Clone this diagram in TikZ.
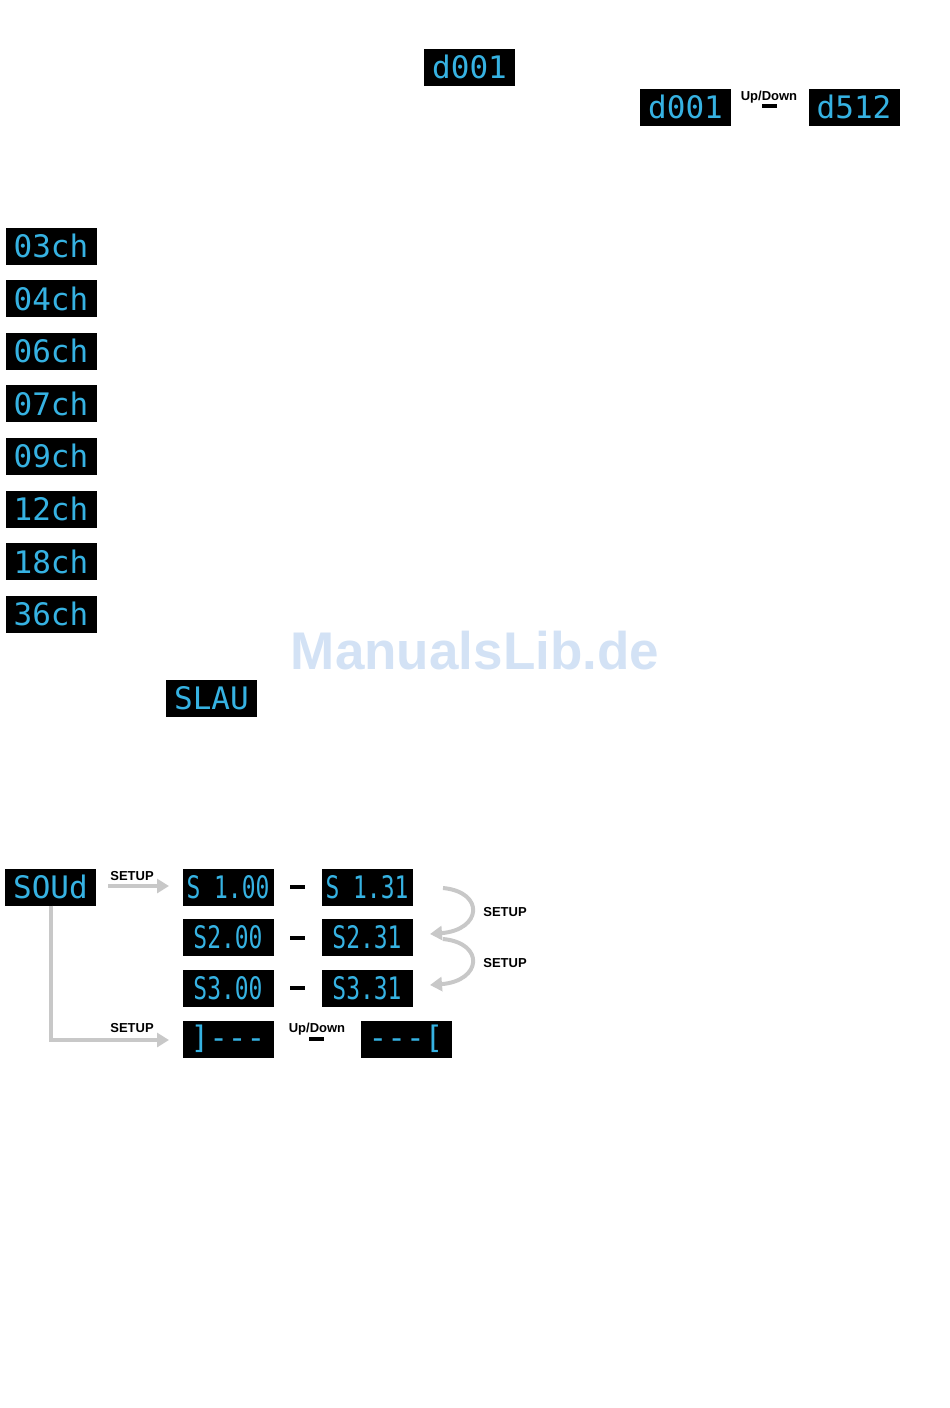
\documentclass[tikz,border=0pt]{standalone}
\usepackage{graphicx}
\usepackage{fontspec}
\setmainfont{Liberation Sans}
\newfontfamily\lcdfont{DejaVu Sans Mono}
\usetikzlibrary{arrows.meta}
\definecolor{lcdcyan}{HTML}{36B2E2}
\definecolor{arrgray}{HTML}{C8C8C8}
\definecolor{wmark}{HTML}{D3E2F5}
\newcommand\sqz[1]{\scalebox{0.74}[1]{#1}}
\tikzset{
  lcd/.style={fill=black, minimum width=91pt, minimum height=37pt, inner sep=0pt, text=lcdcyan, font=\lcdfont\fontsize{31}{31}\selectfont},
  lbl/.style={font=\bfseries\fontsize{13}{13}\selectfont, inner sep=0pt},
  bar/.style={fill=black, minimum width=15pt, minimum height=4pt, inner sep=0pt},
  garrow/.style={draw=arrgray, line width=4pt, -{Triangle[length=12pt,width=14pt]}},
}
\begin{document}
\begin{tikzpicture}[x=1pt,y=-1pt]
\useasboundingbox (0,0) rectangle (950,1408);
% top
\node[lcd] (d1) at (469.5,67) {d001};
\node[lcd] (d2) at (685.5,107) {d001};
\node[lbl] (ud1) at (769,97) {Up/Down};
\node[bar] (b1) at (769,106) {};
\node[lcd] (d3) at (854,107) {d512};
% channel modes
\node[lcd] (c3) at (51,246) {03ch};
\node[lcd] (c4) at (51,298.5) {04ch};
\node[lcd] (c6) at (51,351) {06ch};
\node[lcd] (c7) at (51,403.5) {07ch};
\node[lcd] (c9) at (51,456) {09ch};
\node[lcd] (c12) at (51,509) {12ch};
\node[lcd] (c18) at (51,561.5) {18ch};
\node[lcd] (c36) at (51,614) {36ch};
% watermark
\node[text=wmark, font=\bfseries\fontsize{53}{53}\selectfont] (wm) at (475,651) {ManualsLib.de};
\node[lcd] (slau) at (211.5,698.5) {SLAU};
% sound
\node[lcd] (soud) at (50.5,887) {SOUd};
\node[lcd] (s1a) at (228,887) {\sqz{S 1.00}};
\node[bar] (m1) at (297.5,887) {};
\node[lcd] (s1b) at (367,887) {\sqz{S 1.31}};
\node[lcd] (s2a) at (228,937.5) {\sqz{S2.00}};
\node[bar] (m2) at (297.5,937.5) {};
\node[lcd] (s2b) at (367,937.5) {\sqz{S2.31}};
\node[lcd] (s3a) at (228,988) {\sqz{S3.00}};
\node[bar] (m3) at (297.5,988) {};
\node[lcd] (s3b) at (367,988) {\sqz{S3.31}};
\node[lcd] (ja) at (228,1039) {]---};
\node[lbl] (ud2) at (317,1029) {Up/Down};
\node[bar] (b2) at (316,1039) {};
\node[lcd] (jb) at (406,1039) {---[};
% labels
\node[lbl] (st1) at (132,876) {SETUP};
\node[lbl] (st2) at (132,1028) {SETUP};
\node[lbl] (st3) at (505,912) {SETUP};
\node[lbl] (st4) at (505,963) {SETUP};
% arrows
\coordinate (a1s) at (108,886);
\coordinate (a1e) at (169,886);
\draw[garrow] (a1s) -- (a1e);
\coordinate (a2e) at (169,1040);
\draw[garrow] (soud.south) -- (soud.south |- a2e) -- (a2e);
\coordinate (c1s) at (443,888);
\coordinate (c1e) at (430,934);
\draw[garrow] (c1s) .. controls (485,892) and (482,930) .. (c1e);
\coordinate (c2s) at (443,939);
\coordinate (c2e) at (430,985);
\draw[garrow] (c2s) .. controls (485,943) and (482,981) .. (c2e);
\end{tikzpicture}
\end{document}
